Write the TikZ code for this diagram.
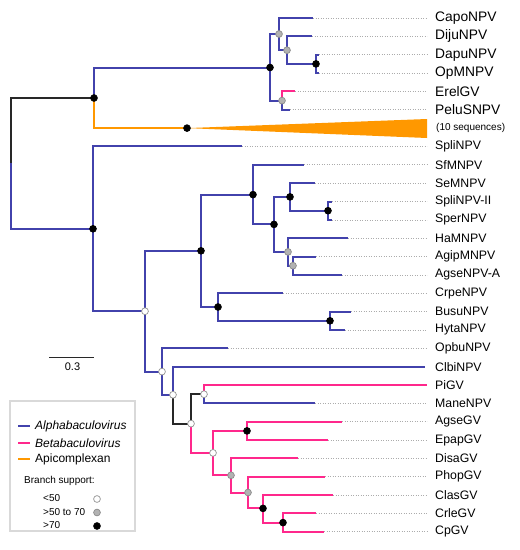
\documentclass[tikz,border=0pt]{standalone}
\usepackage{fontspec}
\setmainfont{Liberation Sans}
\usetikzlibrary{backgrounds}
\pgfdeclarelayer{edgelayer}
\pgfdeclarelayer{nodelayer}
\pgfsetlayers{edgelayer,nodelayer,main}
\definecolor{alphablue}{RGB}{66,66,172}
\definecolor{betapink}{RGB}{255,40,140}
\definecolor{apiorange}{RGB}{255,152,0}
\definecolor{stemgray}{RGB}{40,40,40}
\tikzstyle{branch}=[-, line width=2]
\tikzstyle{alphabranch}=[branch, draw=alphablue]
\tikzstyle{betabranch}=[branch, draw=betapink]
\tikzstyle{apibranch}=[branch, draw=apiorange]
\tikzstyle{stembranch}=[branch, draw=stemgray]
\tikzstyle{guide}=[-, draw=gray!65, line width=0.7, dash pattern=on 0.9 off 1.6, shorten >=8]
\tikzstyle{lowsupport}=[circle, fill=white, draw=gray!85, line width=0.7, inner sep=0, minimum size=6.8]
\tikzstyle{midsupport}=[circle, fill=gray!60, draw=gray!90, line width=0.7, inner sep=0, minimum size=6.8]
\tikzstyle{highsupport}=[circle, fill=black, draw=black, line width=0.7, inner sep=0, minimum size=6.8]
\tikzstyle{taxon}=[anchor=west, inner sep=0, font=\fontsize{12.3}{14}\selectfont]
\tikzstyle{bigtaxon}=[anchor=west, inner sep=0, font=\fontsize{13.8}{16}\selectfont]
\tikzstyle{keytext}=[anchor=west, inner sep=0, font=\fontsize{12}{14}\selectfont]
\tikzstyle{smalltext}=[anchor=west, inner sep=0, font=\fontsize{10}{12}\selectfont]

\begin{document}
\begin{tikzpicture}[x=1pt, y=-1pt]
            \useasboundingbox (0,0) rectangle (520,550);
            \begin{pgfonlayer}{nodelayer}
                \coordinate (root) at (11, 163);
                \node [style=highsupport] (nA) at (94, 98) {};
                \node [style=highsupport] (nO) at (187, 128.1) {};
                \node [style=highsupport] (nC) at (270, 67.5) {};
                \node [style=midsupport] (nD) at (279, 34) {};
                \node [style=midsupport] (nF) at (287, 50.2) {};
                \node [style=highsupport] (nG) at (316, 63.9) {};
                \node [style=midsupport] (nE) at (282, 100.6) {};
                \node [style=highsupport] (nB) at (93, 228.8) {};
                \node [style=lowsupport] (nH) at (145, 311.2) {};
                \node [style=highsupport] (nI) at (201, 250.8) {};
                \node [style=highsupport] (nK) at (253, 194.6) {};
                \node [style=highsupport] (nM) at (274, 224.4) {};
                \node [style=highsupport] (nN) at (290, 196.9) {};
                \node [style=highsupport] (nQ) at (328, 210.7) {};
                \node [style=midsupport] (nP) at (288, 251.9) {};
                \node [style=midsupport] (nR) at (293, 265.7) {};
                \node [style=highsupport] (nL) at (218, 307) {};
                \node [style=highsupport] (nS) at (330, 320.8) {};
                \node [style=lowsupport] (nJ) at (162, 371.6) {};
                \node [style=lowsupport] (nT) at (173, 394.8) {};
                \node [style=lowsupport] (nU) at (191, 423.6) {};
                \node [style=lowsupport] (nV) at (204, 394.2) {};
                \node [style=lowsupport] (nW) at (213, 452.9) {};
                \node [style=highsupport] (nX) at (247, 430.9) {};
                \node [style=midsupport] (nY) at (231, 475.3) {};
                \node [style=midsupport] (nZ) at (248, 492.5) {};
                \node [style=highsupport] (nZa) at (263, 508.4) {};
                \node [style=highsupport] (nZb) at (283, 522.6) {};

                \coordinate (tCapo) at (313, 18);
                \coordinate (tDiju) at (312, 36.35);
                \coordinate (tDapu) at (319, 54.7);
                \coordinate (tOpM) at (319, 73.05);
                \coordinate (tErel) at (295, 91.4);
                \coordinate (tPelu) at (290, 109.75);
                \coordinate (triTop) at (427, 119);
                \coordinate (triBot) at (427, 138);
                \coordinate (tSpli) at (242, 146.45);
                \coordinate (tSf) at (304, 164.8);
                \coordinate (tSeM) at (315, 183.15);
                \coordinate (tSpliII) at (332, 201.5);
                \coordinate (tSper) at (332, 219.85);
                \coordinate (tHaM) at (348, 238.2);
                \coordinate (tAgip) at (316, 256.55);
                \coordinate (tAgseA) at (342, 274.9);
                \coordinate (tCrpe) at (283, 293.25);
                \coordinate (tBusu) at (351, 311.6);
                \coordinate (tHyta) at (345, 329.95);
                \coordinate (tOpbu) at (228, 348.3);
                \coordinate (tClbi) at (425, 366.65);
                \coordinate (tPi) at (427, 385);
                \coordinate (tMane) at (315, 403.35);
                \coordinate (tAgseGV) at (342, 421.7);
                \coordinate (tEpap) at (328, 440.05);
                \coordinate (tDisa) at (298, 458.4);
                \coordinate (tPhop) at (325, 476.75);
                \coordinate (tClas) at (333, 495.1);
                \coordinate (tCrle) at (316, 513.45);
                \coordinate (tCp) at (324, 531.8);

                \node [style=bigtaxon] (lCapo) at (435, 18) {CapoNPV};
                \node [style=bigtaxon] (lDiju) at (435, 36.35) {DijuNPV};
                \node [style=bigtaxon] (lDapu) at (435, 54.7) {DapuNPV};
                \node [style=bigtaxon] (lOpM) at (435, 73.05) {OpMNPV};
                \node [style=bigtaxon] (lErel) at (435, 91.4) {ErelGV};
                \node [style=bigtaxon] (lPelu) at (435, 109.75) {PeluSNPV};
                \node [style=smalltext] (lApi) at (436, 128.1) {(10 sequences)};
                \node [style=taxon] (lSpli) at (435, 146.45) {SpliNPV};
                \node [style=taxon] (lSf) at (435, 164.8) {SfMNPV};
                \node [style=taxon] (lSeM) at (435, 183.15) {SeMNPV};
                \node [style=taxon] (lSpliII) at (435, 201.5) {SpliNPV-II};
                \node [style=taxon] (lSper) at (435, 219.85) {SperNPV};
                \node [style=taxon] (lHaM) at (435, 238.2) {HaMNPV};
                \node [style=taxon] (lAgip) at (435, 256.55) {AgipMNPV};
                \node [style=taxon] (lAgseA) at (435, 274.9) {AgseNPV-A};
                \node [style=taxon] (lCrpe) at (435, 293.25) {CrpeNPV};
                \node [style=taxon] (lBusu) at (435, 311.6) {BusuNPV};
                \node [style=taxon] (lHyta) at (435, 329.95) {HytaNPV};
                \node [style=taxon] (lOpbu) at (435, 348.3) {OpbuNPV};
                \node [style=taxon] (lClbi) at (435, 366.65) {ClbiNPV};
                \node [style=taxon] (lPi) at (435, 385) {PiGV};
                \node [style=taxon] (lMane) at (435, 403.35) {ManeNPV};
                \node [style=taxon] (lAgseGV) at (435, 421.7) {AgseGV};
                \node [style=taxon] (lEpap) at (435, 440.05) {EpapGV};
                \node [style=taxon] (lDisa) at (435, 458.4) {DisaGV};
                \node [style=taxon] (lPhop) at (435, 476.75) {PhopGV};
                \node [style=taxon] (lClas) at (435, 495.1) {ClasGV};
                \node [style=taxon] (lCrle) at (435, 513.45) {CrleGV};
                \node [style=taxon] (lCp) at (435, 531.8) {CpGV};

                \coordinate (sbL) at (49, 357);
                \coordinate (sbR) at (94, 357);
                \node [font=\fontsize{11}{13}\selectfont, inner sep=0] (sbText) at (72.5, 367) {0.3};

                \coordinate (kAlphaA) at (18, 426);
                \coordinate (kAlphaB) at (30, 426);
                \coordinate (kBetaA) at (18, 443);
                \coordinate (kBetaB) at (30, 443);
                \coordinate (kApiA) at (18, 459);
                \coordinate (kApiB) at (30, 459);
                \node [style=keytext] (kAlpha) at (35, 426) {\textit{Alphabaculovirus}};
                \node [style=keytext] (kBeta) at (35, 443) {\textit{Betabaculovirus}};
                \node [style=keytext] (kApi) at (35, 459) {Apicomplexan};
                \node [style=smalltext] (kSupport) at (24, 481) {Branch support:};
                \node [style=smalltext] (kLow) at (43, 498.5) {<50};
                \node [style=smalltext] (kMid) at (43, 512) {>50 to 70};
                \node [style=smalltext] (kHigh) at (43, 525.5) {>70};
                \node [style=lowsupport] (kLowDot) at (97, 499) {};
                \node [style=midsupport] (kMidDot) at (97, 512.5) {};
                \node [style=highsupport] (kHighDot) at (97, 526) {};
            \end{pgfonlayer}
            \begin{pgfonlayer}{edgelayer}
                \draw [style=stembranch] (root) |- (nA.center);
                \draw [style=alphabranch] (root) |- (nB.center);
                \draw [style=alphabranch] (nA.center) |- (nC.center);
                \draw [style=apibranch] (nA.center) |- (nO.center);
                \fill [apiorange] (nO.center) -- (triTop) -- (triBot) -- cycle;
                \draw [style=alphabranch] (nC.center) |- (nD.center);
                \draw [style=alphabranch] (nC.center) |- (nE.center);
                \draw [style=alphabranch] (nD.center) |- (tCapo);
                \draw [style=alphabranch] (nD.center) |- (nF.center);
                \draw [style=alphabranch] (nF.center) |- (tDiju);
                \draw [style=alphabranch] (nF.center) |- (nG.center);
                \draw [style=alphabranch] (nG.center) |- (tDapu);
                \draw [style=alphabranch] (nG.center) |- (tOpM);
                \draw [style=betabranch] (nE.center) |- (tErel);
                \draw [style=alphabranch] (nE.center) |- (tPelu);

                \draw [style=alphabranch] (nB.center) |- (tSpli);
                \draw [style=alphabranch] (nB.center) |- (nH.center);
                \draw [style=alphabranch] (nH.center) |- (nI.center);
                \draw [style=alphabranch] (nH.center) |- (nJ.center);
                \draw [style=alphabranch] (nI.center) |- (nK.center);
                \draw [style=alphabranch] (nI.center) |- (nL.center);
                \draw [style=alphabranch] (nK.center) |- (tSf);
                \draw [style=alphabranch] (nK.center) |- (nM.center);
                \draw [style=alphabranch] (nM.center) |- (nN.center);
                \draw [style=alphabranch] (nM.center) |- (nP.center);
                \draw [style=alphabranch] (nN.center) |- (tSeM);
                \draw [style=alphabranch] (nN.center) |- (nQ.center);
                \draw [style=alphabranch] (nQ.center) |- (tSpliII);
                \draw [style=alphabranch] (nQ.center) |- (tSper);
                \draw [style=alphabranch] (nP.center) |- (tHaM);
                \draw [style=alphabranch] (nP.center) |- (nR.center);
                \draw [style=alphabranch] (nR.center) |- (tAgip);
                \draw [style=alphabranch] (nR.center) |- (tAgseA);
                \draw [style=alphabranch] (nL.center) |- (tCrpe);
                \draw [style=alphabranch] (nL.center) |- (nS.center);
                \draw [style=alphabranch] (nS.center) |- (tBusu);
                \draw [style=alphabranch] (nS.center) |- (tHyta);

                \draw [style=alphabranch] (nJ.center) |- (tOpbu);
                \draw [style=alphabranch] (nJ.center) |- (nT.center);
                \draw [style=alphabranch] (nT.center) |- (tClbi);
                \draw [style=stembranch] (nT.center) |- (nU.center);
                \draw [style=stembranch] (nU.center) |- (nV.center);
                \draw [style=betabranch] (nV.center) |- (tPi);
                \draw [style=alphabranch] (nV.center) |- (tMane);
                \draw [style=betabranch] (nU.center) |- (nW.center);
                \draw [style=betabranch] (nW.center) |- (nX.center);
                \draw [style=betabranch] (nW.center) |- (nY.center);
                \draw [style=betabranch] (nX.center) |- (tAgseGV);
                \draw [style=betabranch] (nX.center) |- (tEpap);
                \draw [style=betabranch] (nY.center) |- (tDisa);
                \draw [style=betabranch] (nY.center) |- (nZ.center);
                \draw [style=betabranch] (nZ.center) |- (tPhop);
                \draw [style=betabranch] (nZ.center) |- (nZa.center);
                \draw [style=betabranch] (nZa.center) |- (tClas);
                \draw [style=betabranch] (nZa.center) |- (nZb.center);
                \draw [style=betabranch] (nZb.center) |- (tCrle);
                \draw [style=betabranch] (nZb.center) |- (tCp);

                \draw [style=guide] (tCapo) to (lCapo.west);
                \draw [style=guide] (tDiju) to (lDiju.west);
                \draw [style=guide] (tDapu) to (lDapu.west);
                \draw [style=guide] (tOpM) to (lOpM.west);
                \draw [style=guide] (tErel) to (lErel.west);
                \draw [style=guide] (tPelu) to (lPelu.west);
                \draw [style=guide] (tSpli) to (lSpli.west);
                \draw [style=guide] (tSf) to (lSf.west);
                \draw [style=guide] (tSeM) to (lSeM.west);
                \draw [style=guide] (tSpliII) to (lSpliII.west);
                \draw [style=guide] (tSper) to (lSper.west);
                \draw [style=guide] (tHaM) to (lHaM.west);
                \draw [style=guide] (tAgip) to (lAgip.west);
                \draw [style=guide] (tAgseA) to (lAgseA.west);
                \draw [style=guide] (tCrpe) to (lCrpe.west);
                \draw [style=guide] (tBusu) to (lBusu.west);
                \draw [style=guide] (tHyta) to (lHyta.west);
                \draw [style=guide] (tOpbu) to (lOpbu.west);
                \draw [style=guide] (tMane) to (lMane.west);
                \draw [style=guide] (tAgseGV) to (lAgseGV.west);
                \draw [style=guide] (tEpap) to (lEpap.west);
                \draw [style=guide] (tDisa) to (lDisa.west);
                \draw [style=guide] (tPhop) to (lPhop.west);
                \draw [style=guide] (tClas) to (lClas.west);
                \draw [style=guide] (tCrle) to (lCrle.west);
                \draw [style=guide] (tCp) to (lCp.west);

                \draw [draw=stemgray, line width=1] (sbL) to (sbR);
                \draw [draw=gray!30, line width=1.5] (10, 401) rectangle (135, 531);
                \draw [style=alphabranch, line width=1.5] (kAlphaA) to (kAlphaB);
                \draw [style=betabranch, line width=1.5] (kBetaA) to (kBetaB);
                \draw [style=apibranch, line width=1.5] (kApiA) to (kApiB);
            \end{pgfonlayer}
        \end{tikzpicture}
\end{document}
